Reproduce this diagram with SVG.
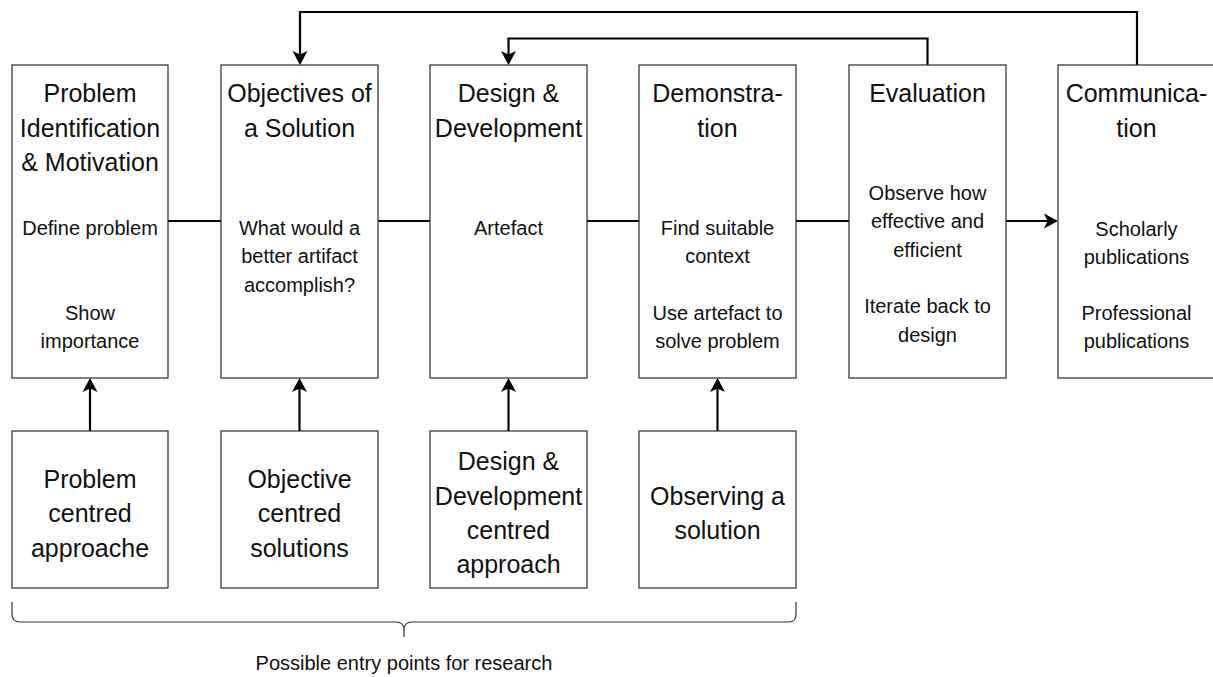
<svg xmlns="http://www.w3.org/2000/svg" width="1213" height="677" viewBox="0 0 1213 677">
  <style>
    .box { fill: #ffffff; stroke: #2a2a2a; stroke-width: 1.2; }
    .link { fill: none; stroke: #000000; stroke-width: 2.2; }
    .brace { fill: none; stroke: #333333; stroke-width: 1.2; }
    text { font-family: "Liberation Sans", Arial, sans-serif; fill: #111111; text-anchor: middle; }
    .title { font-size: 25px; }
    .body { font-size: 20px; }
  </style>
  <defs>
    <marker id="arrow" viewBox="-10 -9 18 18" refX="0" refY="0" markerWidth="18" markerHeight="18" markerUnits="userSpaceOnUse" orient="auto">
      <path d="M-8,-7.5 L6,0 L-8,7.5 L-4.5,0 Z" fill="#000000"/>
    </marker>
  </defs>

  <!-- connectors -->
  <g id="connectors">
    <path class="link" d="M168,221 H221"/>
    <path class="link" d="M378,221 H430"/>
    <path class="link" d="M587,221 H639"/>
    <path class="link" d="M796,221 H849"/>
    <path class="link" d="M1006,221 H1052" marker-end="url(#arrow)"/>
    <path class="link" d="M1137,65 V12 H300 V59" marker-end="url(#arrow)"/>
    <path class="link" d="M927.5,65 V38.5 H508.5 V59" marker-end="url(#arrow)"/>
    <path class="link" d="M90,431 V384" marker-end="url(#arrow)"/>
    <path class="link" d="M299.5,431 V384" marker-end="url(#arrow)"/>
    <path class="link" d="M508.5,431 V384" marker-end="url(#arrow)"/>
    <path class="link" d="M717.5,431 V384" marker-end="url(#arrow)"/>
  </g>

  <!-- process steps -->
  <g id="problem-identification">
    <rect class="box" x="12" y="65" width="156" height="313"/>
    <text class="title" x="90" y="101.7">Problem</text>
    <text class="title" x="90" y="136.7">Identification</text>
    <text class="title" x="90" y="171">&amp; Motivation</text>
    <text class="body" x="90" y="235">Define problem</text>
    <text class="body" x="90" y="320">Show</text>
    <text class="body" x="90" y="348">importance</text>
  </g>

  <g id="objectives">
    <rect class="box" x="221" y="65" width="157" height="313"/>
    <text class="title" x="299.5" y="101.7">Objectives of</text>
    <text class="title" x="299.5" y="136.7">a Solution</text>
    <text class="body" x="299.5" y="235">What would a</text>
    <text class="body" x="299.5" y="263.3">better artifact</text>
    <text class="body" x="299.5" y="291.7">accomplish?</text>
  </g>

  <g id="design-development">
    <rect class="box" x="430" y="65" width="157" height="313"/>
    <text class="title" x="508.5" y="101.7">Design &amp;</text>
    <text class="title" x="508.5" y="136.7">Development</text>
    <text class="body" x="508.5" y="235">Artefact</text>
  </g>

  <g id="demonstration">
    <rect class="box" x="639" y="65" width="157" height="313"/>
    <text class="title" x="717.5" y="101.7">Demonstra-</text>
    <text class="title" x="717.5" y="136.7">tion</text>
    <text class="body" x="717.5" y="235">Find suitable</text>
    <text class="body" x="717.5" y="263.3">context</text>
    <text class="body" x="717.5" y="320">Use artefact to</text>
    <text class="body" x="717.5" y="348">solve problem</text>
  </g>

  <g id="evaluation">
    <rect class="box" x="849" y="65" width="157" height="313"/>
    <text class="title" x="927.5" y="101.7">Evaluation</text>
    <text class="body" x="927.5" y="200">Observe how</text>
    <text class="body" x="927.5" y="228.3">effective and</text>
    <text class="body" x="927.5" y="256.7">efficient</text>
    <text class="body" x="927.5" y="313.3">Iterate back to</text>
    <text class="body" x="927.5" y="341.7">design</text>
  </g>

  <g id="communication">
    <rect class="box" x="1058" y="65" width="157" height="313"/>
    <text class="title" x="1136.5" y="101.7">Communica-</text>
    <text class="title" x="1136.5" y="136.7">tion</text>
    <text class="body" x="1136.5" y="236">Scholarly</text>
    <text class="body" x="1136.5" y="264">publications</text>
    <text class="body" x="1136.5" y="320">Professional</text>
    <text class="body" x="1136.5" y="348">publications</text>
  </g>

  <!-- entry points -->
  <g id="problem-centred">
    <rect class="box" x="12" y="431" width="156" height="157"/>
    <text class="title" x="90" y="488.3">Problem</text>
    <text class="title" x="90" y="522.3">centred</text>
    <text class="title" x="90" y="556.7">approache</text>
  </g>

  <g id="objective-centred">
    <rect class="box" x="221" y="431" width="157" height="157"/>
    <text class="title" x="299.5" y="488.3">Objective</text>
    <text class="title" x="299.5" y="522.3">centred</text>
    <text class="title" x="299.5" y="556.7">solutions</text>
  </g>

  <g id="design-centred">
    <rect class="box" x="430" y="431" width="157" height="157"/>
    <text class="title" x="508.5" y="470">Design &amp;</text>
    <text class="title" x="508.5" y="505">Development</text>
    <text class="title" x="508.5" y="539">centred</text>
    <text class="title" x="508.5" y="573">approach</text>
  </g>

  <g id="observing-solution">
    <rect class="box" x="639" y="431" width="157" height="157"/>
    <text class="title" x="717.5" y="505">Observing a</text>
    <text class="title" x="717.5" y="539">solution</text>
  </g>

  <!-- brace over the entry points -->
  <g id="entry-brace">
    <path class="brace" d="M12,602 V614 Q12,622 20,622 H396 Q404,622 404,630 V637 M404,630 Q404,622 412,622 H789 Q796,622 796,614 V602"/>
    <text class="body" x="404" y="670">Possible entry points for research</text>
  </g>
</svg>
